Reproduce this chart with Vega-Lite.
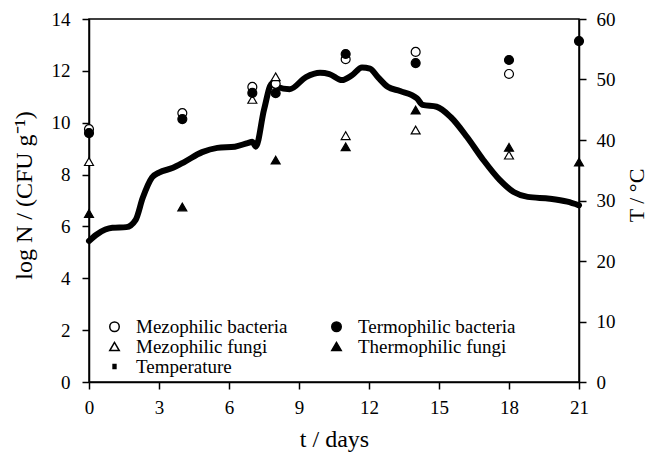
{
  "$schema": "https://vega.github.io/schema/vega-lite/v6.json",
  "width": 490,
  "height": 363,
  "autosize": {"type": "none"},
  "padding": {"left": 89, "top": 19, "right": 70, "bottom": 73},
  "background": "white",
  "config": {
    "view": {"stroke": "black", "strokeWidth": 1.5},
    "axis": {
      "grid": false,
      "domainColor": "black",
      "domainWidth": 1.5,
      "tickColor": "black",
      "tickWidth": 1.5,
      "tickSize": 7,
      "labelFlush": false,
      "labelOverlap": false,
      "labelFont": "Liberation Serif",
      "labelFontSize": 19,
      "labelColor": "black",
      "titleFont": "Liberation Serif",
      "titleFontWeight": "normal",
      "titleColor": "black"
    }
  },
  "datasets": {
    "temp": [
      {"day": 0, "T": 23.3}, {"day": 0.3, "T": 24.3}, {"day": 0.7, "T": 25.2}, {"day": 1.0, "T": 25.5},
      {"day": 1.6, "T": 25.6}, {"day": 2.0, "T": 26.8}, {"day": 2.3, "T": 30.4}, {"day": 2.7, "T": 33.8},
      {"day": 3.0, "T": 34.6}, {"day": 3.6, "T": 35.4}, {"day": 4.1, "T": 36.4}, {"day": 4.85, "T": 38.0},
      {"day": 5.5, "T": 38.7}, {"day": 6.25, "T": 38.9}, {"day": 6.8, "T": 39.5}, {"day": 7.0, "T": 39.7},
      {"day": 7.15, "T": 38.9}, {"day": 7.5, "T": 45.0}, {"day": 7.85, "T": 49.4}, {"day": 8.05, "T": 48.8},
      {"day": 8.6, "T": 48.4}, {"day": 9.3, "T": 50.4}, {"day": 9.9, "T": 51.1}, {"day": 10.3, "T": 50.9},
      {"day": 10.84, "T": 49.9}, {"day": 11.27, "T": 50.7}, {"day": 11.7, "T": 52.0}, {"day": 12.04, "T": 51.8},
      {"day": 12.4, "T": 50.3}, {"day": 12.8, "T": 48.8}, {"day": 13.33, "T": 48.1}, {"day": 14.05, "T": 46.9},
      {"day": 14.3, "T": 45.8}, {"day": 14.9, "T": 45.5}, {"day": 15.5, "T": 43.8}, {"day": 16.2, "T": 40.5},
      {"day": 16.9, "T": 36.7}, {"day": 17.6, "T": 33.4}, {"day": 18.2, "T": 31.4}, {"day": 18.8, "T": 30.6},
      {"day": 19.75, "T": 30.3}, {"day": 20.5, "T": 29.8}, {"day": 21, "T": 29.2}
    ],
    "counts": [
      {"day": 0, "logN": 9.75, "series": "Mezophilic bacteria"},
      {"day": 4, "logN": 10.37, "series": "Mezophilic bacteria"},
      {"day": 7, "logN": 11.38, "series": "Mezophilic bacteria"},
      {"day": 8, "logN": 11.5, "series": "Mezophilic bacteria"},
      {"day": 11, "logN": 12.45, "series": "Mezophilic bacteria"},
      {"day": 14, "logN": 12.73, "series": "Mezophilic bacteria"},
      {"day": 18, "logN": 11.88, "series": "Mezophilic bacteria"},
      {"day": 0, "logN": 8.5, "series": "Mezophilic fungi"},
      {"day": 7, "logN": 10.9, "series": "Mezophilic fungi"},
      {"day": 8, "logN": 11.77, "series": "Mezophilic fungi"},
      {"day": 11, "logN": 9.5, "series": "Mezophilic fungi"},
      {"day": 14, "logN": 9.72, "series": "Mezophilic fungi"},
      {"day": 18, "logN": 8.75, "series": "Mezophilic fungi"},
      {"day": 0, "logN": 9.6, "series": "Termophilic bacteria"},
      {"day": 4, "logN": 10.14, "series": "Termophilic bacteria"},
      {"day": 7, "logN": 11.15, "series": "Termophilic bacteria"},
      {"day": 8, "logN": 11.14, "series": "Termophilic bacteria"},
      {"day": 11, "logN": 12.65, "series": "Termophilic bacteria"},
      {"day": 14, "logN": 12.3, "series": "Termophilic bacteria"},
      {"day": 18, "logN": 12.42, "series": "Termophilic bacteria"},
      {"day": 21, "logN": 13.15, "series": "Termophilic bacteria"},
      {"day": 0, "logN": 6.5, "series": "Thermophilic fungi"},
      {"day": 4, "logN": 6.75, "series": "Thermophilic fungi"},
      {"day": 8, "logN": 8.56, "series": "Thermophilic fungi"},
      {"day": 11, "logN": 9.07, "series": "Thermophilic fungi"},
      {"day": 14, "logN": 10.49, "series": "Thermophilic fungi"},
      {"day": 18, "logN": 9.05, "series": "Thermophilic fungi"},
      {"day": 21, "logN": 8.48, "series": "Thermophilic fungi"}
    ]
  },
  "layer": [
    {
      "data": {"name": "temp"},
      "mark": {"type": "line", "color": "black", "strokeWidth": 6, "strokeCap": "round", "strokeJoin": "round", "interpolate": "monotone"},
      "encoding": {
        "x": {
          "field": "day", "type": "quantitative",
          "scale": {"domain": [0, 21], "nice": false},
          "axis": {"values": [0, 3, 6, 9, 12, 15, 18, 21], "title": "t / days", "titleFontSize": 24, "labelPadding": 9, "titleBaseline": "alphabetic", "titleY": 64}
        },
        "y": {
          "field": "T", "type": "quantitative",
          "scale": {"domain": [0, 60], "nice": false},
          "axis": {"orient": "right", "values": [0, 10, 20, 30, 40, 50, 60], "title": "T / °C", "titleFontSize": 22, "titleAngle": -90, "titleX": 57, "titleY": 176, "titleAlign": "center", "titleBaseline": "middle", "labelPadding": 10}
        }
      }
    },
    {
      "data": {"name": "counts"},
      "mark": {"type": "point", "filled": true, "opacity": 1, "stroke": "black", "strokeWidth": 1.2, "size": 80},
      "encoding": {
        "x": {"field": "day", "type": "quantitative"},
        "y": {
          "field": "logN", "type": "quantitative",
          "scale": {"domain": [0, 14], "nice": false},
          "axis": {"orient": "left", "values": [0, 2, 4, 6, 8, 10, 12, 14], "title": "log N / (CFU g⁻¹)", "titleFontSize": 24, "titleAngle": -90, "titleX": -65, "titleY": 176, "titleAlign": "center", "titleBaseline": "middle", "labelPadding": 12}
        },
        "shape": {
          "field": "series", "type": "nominal",
          "scale": {
            "domain": ["Mezophilic bacteria", "Mezophilic fungi", "Temperature", "Termophilic bacteria", "Thermophilic fungi"],
            "range": ["circle", "triangle-up", "M-0.3,-0.4H0.3V0.4H-0.3Z", "circle", "triangle-up"]
          },
          "legend": {"orient": "none", "legendX": 16, "legendY": 298, "columns": 2, "columnPadding": 39, "rowPadding": 0, "labelFont": "Liberation Serif", "labelFontSize": 19, "labelColor": "black", "symbolSize": 90, "labelOffset": 12, "title": null, "padding": 0,
            "encode": {"symbols": {"update": {"stroke": {"value": "black"}, "strokeWidth": {"value": 1.2}}}}}
        },
        "fill": {
          "field": "series", "type": "nominal",
          "scale": {
            "domain": ["Mezophilic bacteria", "Mezophilic fungi", "Temperature", "Termophilic bacteria", "Thermophilic fungi"],
            "range": ["white", "white", "black", "black", "black"]
          },
          "legend": {"orient": "none", "legendX": 16, "legendY": 298, "columns": 2, "columnPadding": 39, "rowPadding": 0, "labelFont": "Liberation Serif", "labelFontSize": 19, "labelColor": "black", "symbolSize": 90, "labelOffset": 12, "title": null, "padding": 0,
            "encode": {"symbols": {"update": {"stroke": {"value": "black"}, "strokeWidth": {"value": 1.2}}}}}
        }
      }
    }
  ],
  "resolve": {"scale": {"y": "independent"}}
}
